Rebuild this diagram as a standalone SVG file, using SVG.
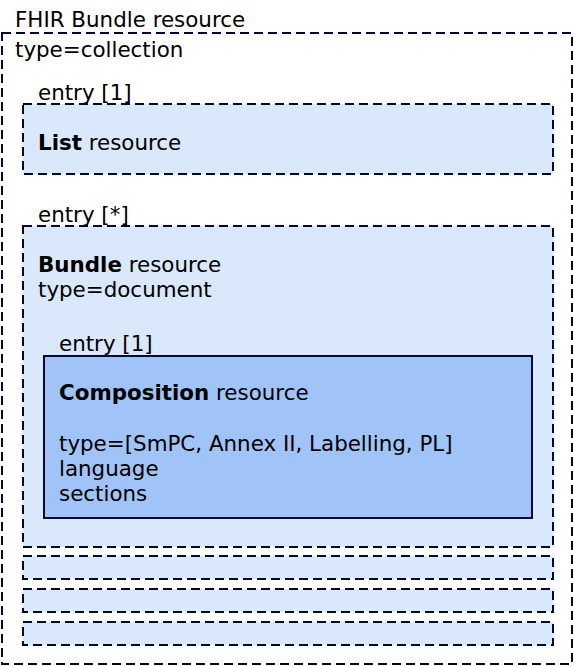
<svg xmlns="http://www.w3.org/2000/svg" width="574" height="666" viewBox="0 0 574 666">
<style>
text{font-family:"DejaVu Sans",Verdana,sans-serif;font-size:21.4px;fill:#000}
.b{font-weight:bold}
.dash{fill:#dae8fc;stroke:#000a30;stroke-width:2;stroke-dasharray:9 5}
.outer{fill:#fff;stroke:#000a30;stroke-width:2;stroke-dasharray:9 5}
.solid{fill:#a0c4f8;stroke:#000a30;stroke-width:2}
</style>
<rect width="574" height="666" fill="#fff"/>
<g id="bundle-collection">
<rect class="outer" x="2" y="33" width="570" height="631"/>
<text x="15" y="27">FHIR Bundle resource</text>
<text x="15" y="57">type=collection</text>
</g>
<g id="list-entry">
<text x="38" y="100">entry [1]</text>
<rect class="dash" x="23" y="104" width="530" height="70"/>
<text x="38" y="150"><tspan class="b">List</tspan> resource</text>
</g>
<g id="bundle-document">
<text x="38" y="222">entry [*]</text>
<rect class="dash" x="23" y="226" width="530" height="321"/>
<text x="38" y="272"><tspan class="b">Bundle</tspan> resource</text>
<text x="38" y="297">type=document</text>
</g>
<g id="composition">
<text x="59" y="351">entry [1]</text>
<rect class="solid" x="44" y="356" width="488" height="162"/>
<text x="59" y="400"><tspan class="b">Composition</tspan> resource</text>
<text x="59" y="451">type=[SmPC, Annex II, Labelling, PL]</text>
<text x="59" y="476">language</text>
<text x="59" y="501">sections</text>
</g>
<g id="entry-2"><rect class="dash" x="23" y="556" width="530" height="23"/></g>
<g id="entry-3"><rect class="dash" x="23" y="589" width="530" height="23"/></g>
<g id="entry-4"><rect class="dash" x="23" y="622" width="530" height="23"/></g>
<g id="connectors"></g>
</svg>
